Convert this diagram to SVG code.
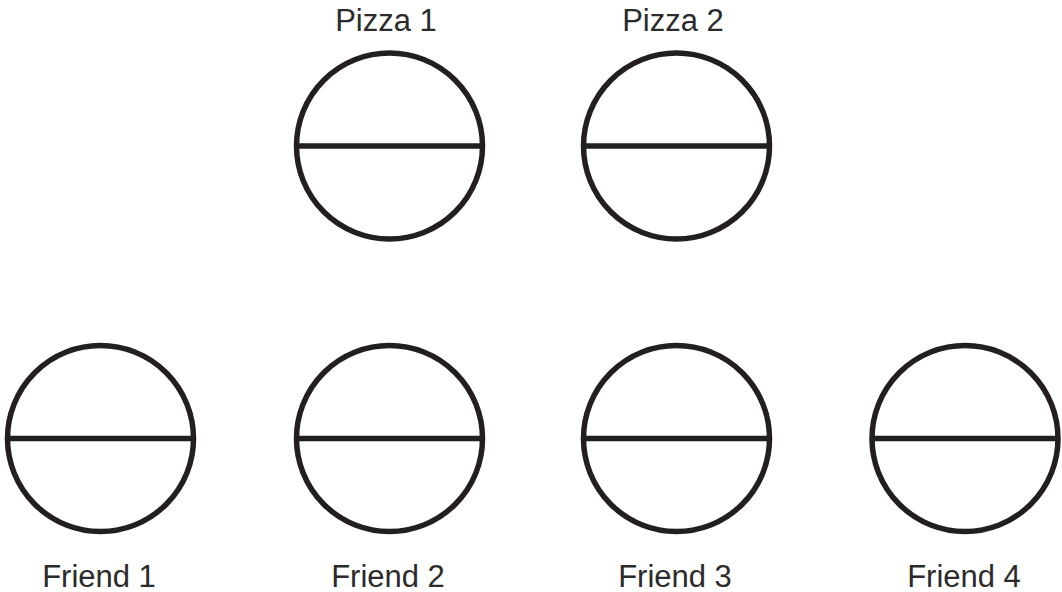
<svg xmlns="http://www.w3.org/2000/svg" width="1062" height="592" viewBox="0 0 1062 592">
<style>
.c{fill:none;stroke:#231f20;stroke-width:5.5}
.t{font-family:"Liberation Sans",Arial,sans-serif;font-size:31px;fill:#2b2b2b;text-anchor:middle}
</style>
<rect width="1062" height="592" fill="#fff"/>
<defs>
<g id="pie"><circle class="c" cx="0" cy="0" r="93"/><line class="c" x1="-93" y1="0" x2="93" y2="0"/></g>
</defs>
<g id="pizza1"><use href="#pie" x="389.5" y="146"/><text class="t" x="386" y="31">Pizza 1</text></g>
<g id="pizza2"><use href="#pie" x="676.5" y="146"/><text class="t" x="673" y="31">Pizza 2</text></g>
<g id="friend1"><use href="#pie" x="100.5" y="438.5"/><text class="t" x="99" y="587">Friend 1</text></g>
<g id="friend2"><use href="#pie" x="389.5" y="438.5"/><text class="t" x="388" y="587">Friend 2</text></g>
<g id="friend3"><use href="#pie" x="676.5" y="438.5"/><text class="t" x="675" y="587">Friend 3</text></g>
<g id="friend4"><use href="#pie" x="965" y="438.5"/><text class="t" x="964" y="587">Friend 4</text></g>
<g id="connectors"></g>
</svg>
